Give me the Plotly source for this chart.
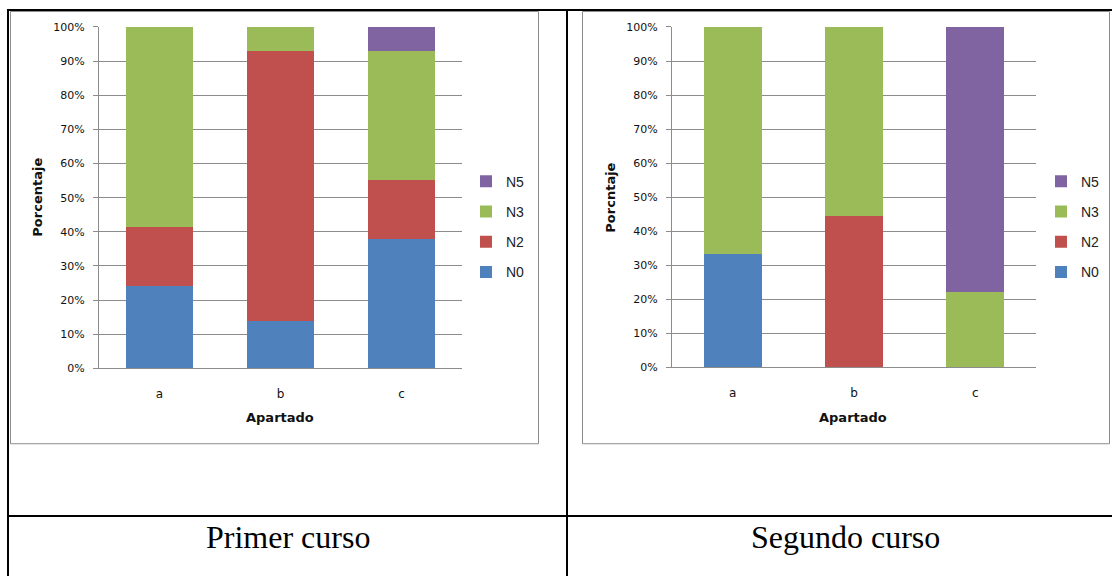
import plotly.graph_objects as go

# Categories (exercise parts)
apartados = ["a", "b", "c"]

# First year: percentage of answers per level
primer_N0 = [24.14, 13.79, 37.93]
primer_N2 = [17.24, 79.31, 17.24]
primer_N3 = [58.62, 6.90, 37.93]
primer_N5 = [0.0, 0.0, 6.90]

# Second year: percentage of answers per level
segundo_N0 = [33.33, 0.0, 0.0]
segundo_N2 = [0.0, 44.44, 0.0]
segundo_N3 = [66.67, 55.56, 22.22]
segundo_N5 = [0.0, 0.0, 77.78]

y_ticks = [0, 10, 20, 30, 40, 50, 60, 70, 80, 90, 100]
y_ticktext = ["0%", "10%", "20%", "30%", "40%", "50%", "60%", "70%", "80%", "90%", "100%"]

niveles = ["N0", "N2", "N3", "N5"]
colores = {"N0": "#4F81BD", "N2": "#C0504D", "N3": "#9BBB59", "N5": "#8064A2"}
# legend lists the top of the stack first
rango = {"N5": 1, "N3": 2, "N2": 3, "N0": 4}

W, H = 1112, 583
Y0, SY = 6.0, 0.9794


def fx(p):
    return p / W


def fy(p):
    # pixel row on the page -> paper fraction
    return 1 - ((p - Y0) / SY) / H


fig = go.Figure()

primer = {"N0": primer_N0, "N2": primer_N2, "N3": primer_N3, "N5": primer_N5}
segundo = {"N0": segundo_N0, "N2": segundo_N2, "N3": segundo_N3, "N5": segundo_N5}

for nivel in niveles:
    fig.add_trace(go.Bar(
        x=apartados, y=primer[nivel], name=nivel, width=0.56,
        marker=dict(color=colores[nivel], line=dict(width=0)),
        xaxis="x", yaxis="y", legend="legend", legendgroup="p" + nivel,
        legendrank=rango[nivel],
    ))
for nivel in niveles:
    fig.add_trace(go.Bar(
        x=apartados, y=segundo[nivel], name=nivel, width=0.48,
        marker=dict(color=colores[nivel], line=dict(width=0)),
        xaxis="x2", yaxis="y2", legend="legend2", legendgroup="s" + nivel,
        legendrank=rango[nivel],
    ))

grid = "#8c8c8c"
tickfont = dict(family="DejaVu Sans", size=11, color="#111")

yax = dict(
    range=[0, 100], tickvals=y_ticks, ticktext=y_ticktext, showgrid=True,
    gridcolor=grid, gridwidth=1, showline=True, linecolor=grid, linewidth=1,
    ticks="outside", ticklen=5, tickcolor=grid, tickfont=tickfont,
    ticklabelstandoff=6, zeroline=False, fixedrange=True,
)
xax = dict(
    showline=True, linecolor=grid, linewidth=1, ticks="", showgrid=False,
    tickfont=dict(family="DejaVu Sans", size=12, color="#111"),
    ticklabelstandoff=14, fixedrange=True,
)

legend_common = dict(
    font=dict(family="Liberation Sans", size=14, color="#222"),
    bgcolor="rgba(0,0,0,0)", borderwidth=0, traceorder="grouped",
    tracegroupgap=9, xanchor="left", yanchor="top",
)

fig.update_layout(
    width=W, height=H, margin=dict(l=0, r=0, t=0, b=0),
    paper_bgcolor="white", plot_bgcolor="white",
    barmode="stack", showlegend=True,
    xaxis=dict(domain=[fx(99), fx(462)], anchor="y", **xax),
    yaxis=dict(domain=[fy(369), fy(27)], anchor="x", **yax),
    xaxis2=dict(domain=[fx(672), fx(1036)], anchor="y2", **xax),
    yaxis2=dict(domain=[fy(368), fy(27)], anchor="x2", **yax),
    legend=dict(x=fx(466), y=fy(166), **legend_common),
    legend2=dict(x=fx(1041), y=fy(166), **legend_common),
)

# Table borders and chart frames
shapes = []
black = dict(color="black", width=2)
shapes.append(dict(type="line", xref="paper", yref="paper", x0=fx(7), x1=1, y0=fy(10), y1=fy(10), line=black))
shapes.append(dict(type="line", xref="paper", yref="paper", x0=fx(8), x1=fx(8), y0=fy(10), y1=0, line=black))
shapes.append(dict(type="line", xref="paper", yref="paper", x0=fx(567), x1=fx(567), y0=fy(10), y1=0, line=black))
shapes.append(dict(type="line", xref="paper", yref="paper", x0=fx(7), x1=1, y0=fy(517), y1=fy(517), line=black))
frame = dict(color="#8c8c8c", width=1)
shapes.append(dict(type="rect", xref="paper", yref="paper", x0=fx(10.5), x1=fx(538.5), y0=fy(444.5), y1=fy(11.5), line=frame))
shapes.append(dict(type="rect", xref="paper", yref="paper", x0=fx(582.5), x1=fx(1109.5), y0=fy(444.5), y1=fy(11.5), line=frame))
fig.update_layout(shapes=shapes)

title_font = dict(family="DejaVu Sans", size=13, color="#111")
annotations = [
    dict(text="<b>Apartado</b>", x=fx(280), y=fy(418), xref="paper", yref="paper",
         showarrow=False, font=title_font, xanchor="center", yanchor="middle"),
    dict(text="<b>Porcentaje</b>", x=fx(38), y=fy(198), xref="paper", yref="paper",
         showarrow=False, font=title_font, textangle=-90, xanchor="center", yanchor="middle"),
    dict(text="<b>Apartado</b>", x=fx(853), y=fy(418), xref="paper", yref="paper",
         showarrow=False, font=title_font, xanchor="center", yanchor="middle"),
    dict(text="<b>Porcntaje</b>", x=fx(611), y=fy(198), xref="paper", yref="paper",
         showarrow=False, font=title_font, textangle=-90, xanchor="center", yanchor="middle"),
    dict(text="Primer curso", x=fx(287.5), y=fy(538), xref="paper", yref="paper",
         showarrow=False, font=dict(family="Liberation Serif", size=32, color="black"),
         xanchor="center", yanchor="middle"),
    dict(text="Segundo curso", x=fx(845), y=fy(538), xref="paper", yref="paper",
         showarrow=False, font=dict(family="Liberation Serif", size=32, color="black"),
         xanchor="center", yanchor="middle"),
]
fig.update_layout(annotations=annotations)

fig.write_html("out.html", config={"displayModeBar": False})
